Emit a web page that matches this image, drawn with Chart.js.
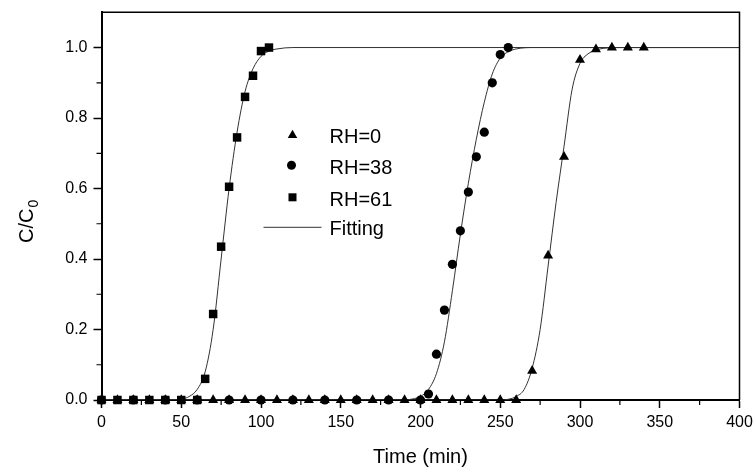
<!DOCTYPE html>
<html>
<head>
<meta charset="utf-8">
<script src="https://cdn.jsdelivr.net/npm/chart.js@4.4.1/dist/chart.umd.min.js"></script>
<style>
    body { margin: 0; background: #fff; }
    #wrap { width: 754px; height: 473px; }
</style>
</head>
<body>
<div id="wrap"><canvas id="myChart"></canvas></div>
<script>
// measured points (min, C/C0)
const timeRH0 = [0, 10, 20, 30, 40, 50, 60, 70, 80, 90, 100, 110, 120, 130, 140, 150, 160, 170, 180, 190, 200, 210, 220, 230, 240, 250, 260, 270, 280, 290, 300, 310, 320, 330, 340];
const valueRH0 = [0, 0, 0, 0, 0, 0, 0, 0, 0, 0, 0, 0, 0, 0, 0, 0, 0, 0, 0, 0, 0, 0, 0, 0, 0, 0, 0, 0.083, 0.41, 0.69, 0.965, 0.995, 1, 1, 1];

const timeRH38 = [0, 20, 40, 60, 80, 100, 120, 140, 160, 180, 200, 205, 210, 215, 220, 225, 230, 235, 240, 245, 250, 255];
const valueRH38 = [0, 0, 0, 0, 0, 0, 0, 0, 0, 0, 0, 0.017, 0.13, 0.255, 0.385, 0.48, 0.59, 0.69, 0.76, 0.9, 0.98, 1];

const timeRH61 = [0, 10, 20, 30, 40, 50, 60, 65, 70, 75, 80, 85, 90, 95, 100, 105];
const valueRH61 = [0, 0, 0, 0, 0, 0, 0, 0.06, 0.244, 0.435, 0.605, 0.745, 0.86, 0.92, 0.99, 1];

// fitted curves
const fitTime0 = [0, 250, 255, 260, 265, 270, 275, 280, 285, 290, 295, 300, 305, 310, 315, 325, 400];
const fitValue0 = [0, 0, 0.002, 0.01, 0.03, 0.09, 0.2, 0.38, 0.56, 0.72, 0.88, 0.955, 0.982, 0.993, 0.998, 1, 1];

const fitTime38 = [0, 190, 195, 200, 205, 210, 215, 220, 225, 230, 235, 240, 245, 250, 255, 260, 270, 400];
const fitValue38 = [0, 0, 0.003, 0.01, 0.03, 0.075, 0.165, 0.31, 0.47, 0.615, 0.74, 0.845, 0.925, 0.97, 0.988, 0.996, 1, 1];

const fitTime61 = [0, 45, 50, 55, 60, 65, 70, 75, 80, 85, 90, 95, 100, 105, 110, 120, 400];
const fitValue61 = [0, 0, 0.002, 0.01, 0.03, 0.08, 0.2, 0.4, 0.6, 0.76, 0.875, 0.94, 0.975, 0.99, 0.996, 1, 1];

const xTicks = [0, 50, 100, 150, 200, 250, 300, 350, 400];
const yTicks = [0, 0.2, 0.4, 0.6, 0.8, 1.0];
const xMinor = [25, 75, 125, 175, 225, 275, 325, 375];
const yMinor = [0.1, 0.3, 0.5, 0.7, 0.9];

const FONT = "'Liberation Sans', Arial, sans-serif";

const toPoints = (xs, ys) => xs.map((x, i) => ({ x: x, y: ys[i] }));

const markerSet = (label, xs, ys, style, radius) => ({
    label: label,
    data: toPoints(xs, ys),
    pointStyle: style,
    pointRadius: radius,
    pointBackgroundColor: "#000",
    pointBorderColor: "#000",
    pointBorderWidth: 0,
    showLine: false,
    clip: false,
});

const fitSet = (xs, ys) => ({
    label: "Fitting",
    data: toPoints(xs, ys),
    showLine: true,
    pointRadius: 0,
    borderColor: "#333",
    borderWidth: 1,
    cubicInterpolationMode: "monotone",
});

// top/right frame, minor ticks, y title with subscript, legend
const decor = {
    id: "decor",
    afterDraw(chart) {
        const { ctx, chartArea: a, scales } = chart;
        const x = scales.x;
        const y = scales.y;
        ctx.save();
        ctx.strokeStyle = "#000";
        ctx.lineWidth = 1.5;
        ctx.beginPath();
        ctx.moveTo(a.left, a.top);
        ctx.lineTo(a.right, a.top);
        ctx.lineTo(a.right, a.bottom);
        ctx.stroke();

        ctx.lineWidth = 1.2;
        ctx.beginPath();
        yMinor.forEach(v => {
            const py = y.getPixelForValue(v);
            ctx.moveTo(a.left - 5, py);
            ctx.lineTo(a.left, py);
        });
        xMinor.forEach(v => {
            const px = x.getPixelForValue(v);
            ctx.moveTo(px, a.bottom);
            ctx.lineTo(px, a.bottom + 5);
        });
        ctx.stroke();

        // y title C/C0
        ctx.fillStyle = "#000";
        ctx.translate(33, 243);
        ctx.rotate(-Math.PI / 2);
        ctx.font = "20px " + FONT;
        ctx.textBaseline = "alphabetic";
        ctx.fillText("C/C", 0, 0);
        const w = ctx.measureText("C/C").width;
        ctx.font = "14px " + FONT;
        ctx.fillText("0", w + 1, 5);
        ctx.restore();

        // legend
        ctx.save();
        ctx.fillStyle = "#000";
        const mx = a.left + 191;
        const tx = a.left + 228;
        const rows = [a.top + 123, a.top + 153, a.top + 185, a.top + 215];
        // triangle
        let r = 5.5;
        ctx.beginPath();
        ctx.moveTo(mx, rows[0] - r);
        ctx.lineTo(mx + r * 0.866, rows[0] + r / 2);
        ctx.lineTo(mx - r * 0.866, rows[0] + r / 2);
        ctx.closePath();
        ctx.fill();
        // circle
        ctx.beginPath();
        ctx.arc(mx - 1, rows[1], 4.5, 0, Math.PI * 2);
        ctx.fill();
        // square
        ctx.fillRect(mx - 4, rows[2] - 4, 8, 8);
        // line
        ctx.strokeStyle = "#333";
        ctx.lineWidth = 1;
        ctx.beginPath();
        ctx.moveTo(a.left + 162, rows[3]);
        ctx.lineTo(a.left + 220, rows[3]);
        ctx.stroke();

        ctx.font = "20px " + FONT;
        ctx.textBaseline = "middle";
        ctx.fillText("RH=0", tx, rows[0] + 2);
        ctx.fillText("RH=38", tx, rows[1] + 3);
        ctx.fillText("RH=61", tx, rows[2] + 3);
        ctx.fillText("Fitting", tx, rows[3] + 2);
        ctx.restore();
    },
};

const ctx = document.getElementById("myChart").getContext("2d");
const chart = new Chart(ctx, {
    type: "scatter",
    data: {
        datasets: [
            markerSet("RH=0", timeRH0, valueRH0, "triangle", 5.8),
            markerSet("RH=38", timeRH38, valueRH38, "circle", 4.6),
            markerSet("RH=61", timeRH61, valueRH61, "rect", 6),
            fitSet(fitTime0, fitValue0),
            fitSet(fitTime38, fitValue38),
            fitSet(fitTime61, fitValue61),
        ],
    },
    options: {
        responsive: true,
        maintainAspectRatio: false,
        animation: false,
        layout: { padding: { top: 12.3, right: 14.5, bottom: 0, left: 0 } },
        plugins: {
            legend: { display: false },
            tooltip: { enabled: false },
        },
        scales: {
            x: {
                type: "linear",
                min: 0,
                max: 400,
                afterFit: scale => {
                    scale.height = 73;
                    scale.paddingLeft = 0;
                    scale.paddingRight = 0;
                },
                afterBuildTicks: scale => { scale.ticks = xTicks.map(v => ({ value: v })); },
                border: { color: "#000", width: 2 },
                grid: { drawOnChartArea: false, drawTicks: true, tickLength: 8, tickColor: "#000", tickWidth: 1.5 },
                ticks: { color: "#000", padding: 5, maxRotation: 0, font: { family: FONT, size: 16 } },
                title: { display: true, text: "Time (min)", color: "#000", padding: { top: 0, bottom: 4 }, font: { family: FONT, size: 20 } },
            },
            y: {
                type: "linear",
                min: 0,
                max: 1.1,
                afterFit: scale => {
                    scale.width = 101.5;
                    scale.paddingTop = 0;
                    scale.paddingBottom = 0;
                },
                afterBuildTicks: scale => { scale.ticks = yTicks.map(v => ({ value: v })); },
                border: { color: "#000", width: 2 },
                grid: { drawOnChartArea: false, drawTicks: true, tickLength: 8, tickColor: "#000", tickWidth: 1.5 },
                ticks: { color: "#000", padding: 6, font: { family: FONT, size: 16 }, callback: v => v.toFixed(1) },
            },
        },
    },
    plugins: [decor],
});
</script>
</body>
</html>
